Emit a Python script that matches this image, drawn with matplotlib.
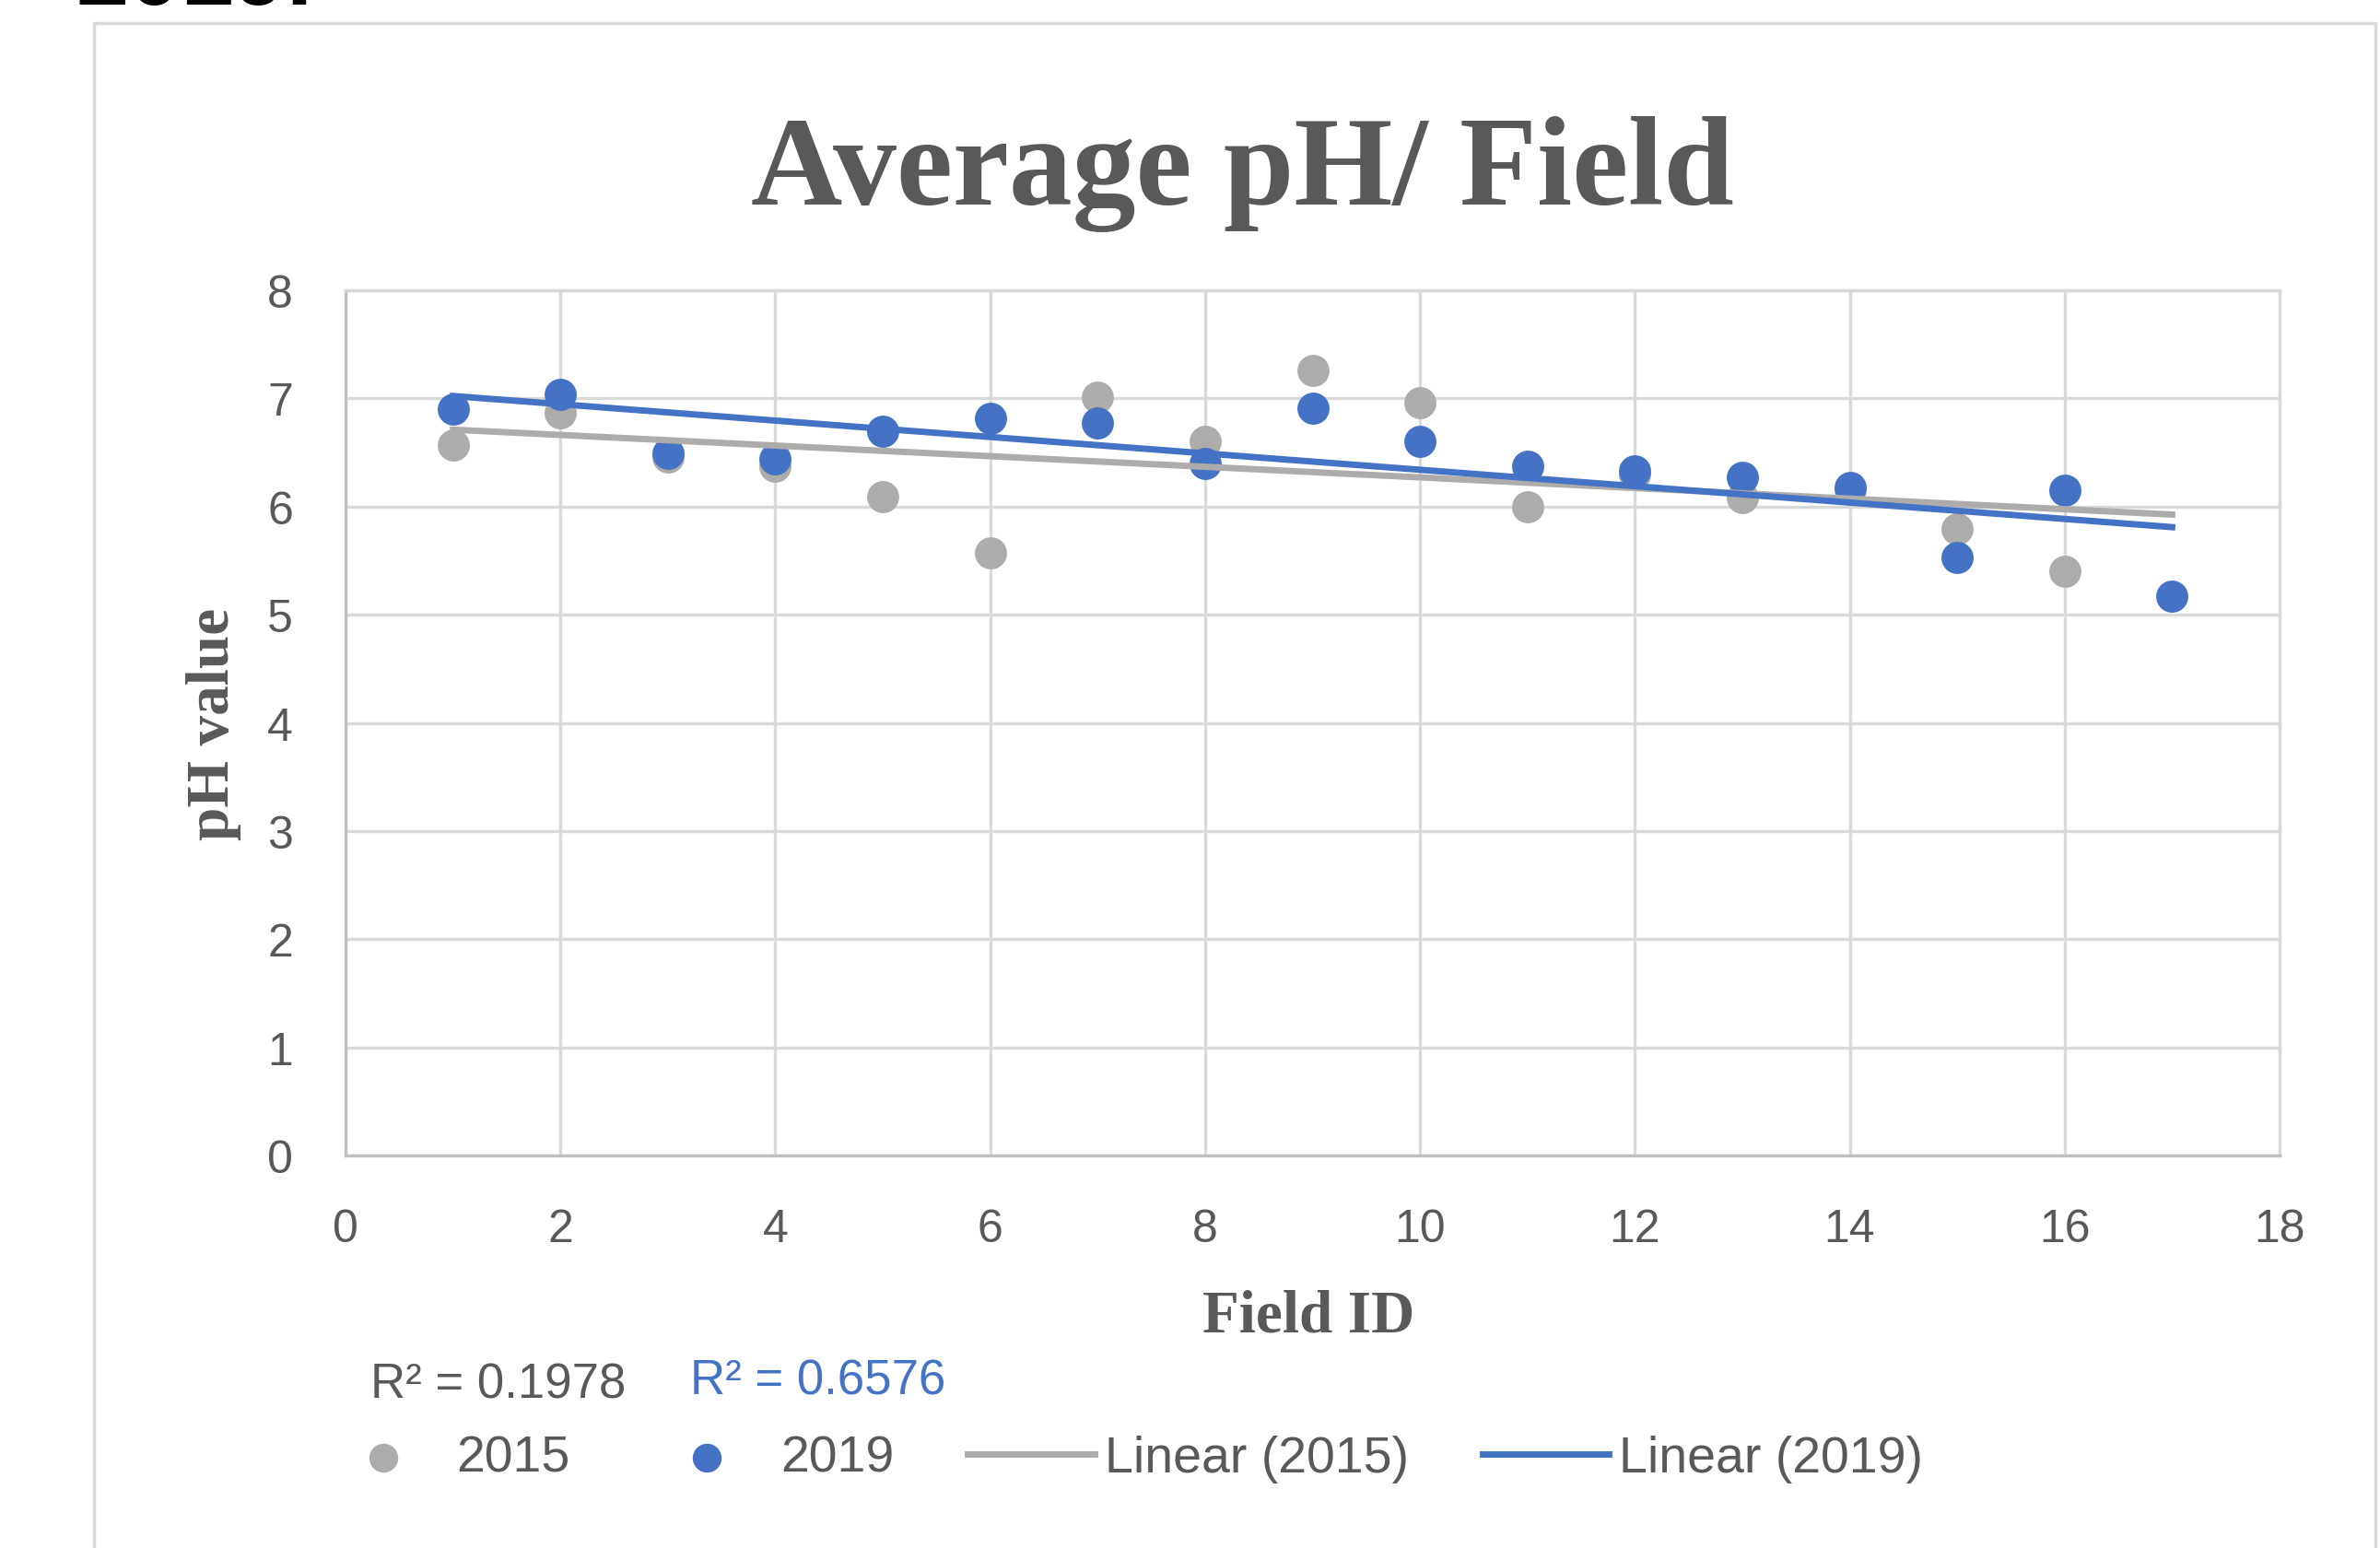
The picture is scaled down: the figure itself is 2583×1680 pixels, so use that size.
import numpy as np
import matplotlib
matplotlib.use("Agg")
import matplotlib.pyplot as plt
from matplotlib.patches import Rectangle

# =============================
# DATA
# =============================
field_2015 = [1, 2, 3, 4, 5, 6, 7, 8, 9, 10, 11, 12, 13, 14, 15, 16]
ph_2015 = [6.57, 6.87, 6.46, 6.37, 6.09, 5.57, 7.01, 6.60,
           7.26, 6.96, 6.00, 6.30, 6.08, 6.16, 5.79, 5.40]

field_2019 = [1, 2, 3, 4, 5, 6, 7, 8, 9, 10, 11, 12, 13, 14, 15, 16, 17]
ph_2019 = [6.90, 7.04, 6.49, 6.44, 6.70, 6.82, 6.77, 6.40,
           6.91, 6.60, 6.37, 6.33, 6.27, 6.18, 5.53, 6.15, 5.17]

r2_2015 = "R² = 0.1978"
r2_2019 = "R² = 0.6576"

x_ticks = [0, 2, 4, 6, 8, 10, 12, 14, 16, 18]
y_ticks = [0, 1, 2, 3, 4, 5, 6, 7, 8]

# =============================
# STYLE
# =============================
W, H = 2583, 1681
BLUE = "#4472C4"
GRAY = "#AEABAB"
TXT = "#595959"
GRID = "#D9D9D9"
SANS = "Liberation Sans"
SERIF = "Liberation Serif"


def fx(px):
    return px / W


def fy(py):
    return 1 - py / H


fig = plt.figure(figsize=(W / 100, H / 100), dpi=100)

# chart frame
fig.add_artist(Rectangle((fx(102), -0.05), fx(2578 - 102), fy(26) + 0.05,
                         transform=fig.transFigure, fill=False,
                         ec=GRID, lw=2.5))

# cut-off text from the page above the chart
fig.text(fx(82), fy(5), "2019.", fontsize=74, family=SANS,
         fontweight="bold", color="black", va="baseline", ha="left")

ax = fig.add_axes([fx(375), fy(1255), fx(2474 - 375), fy(316) - fy(1255)])

ax.set_xlim(0, 18)
ax.set_ylim(0, 8)
ax.set_xticks(x_ticks)
ax.set_yticks(y_ticks)
ax.grid(True, color=GRID, lw=2.4, zorder=0)
ax.set_axisbelow(True)

for s in ["top", "right"]:
    ax.spines[s].set_color(GRID)
    ax.spines[s].set_linewidth(2.4)
for s in ["left", "bottom"]:
    ax.spines[s].set_color("#BFBFBF")
    ax.spines[s].set_linewidth(2.4)

ax.tick_params(length=0, pad=41, labelsize=36, labelcolor=TXT)
for lab in ax.get_xticklabels() + ax.get_yticklabels():
    lab.set_family(SANS)

# scatter points
ax.scatter(field_2015, ph_2015, s=630, color=GRAY, lw=0, zorder=3,
           label="2015")
ax.scatter(field_2019, ph_2019, s=630, color=BLUE, lw=0, zorder=4,
           label="2019")

# linear trendlines
xs = np.array([min(field_2019), max(field_2019)])
k15, b15 = np.polyfit(field_2015, ph_2015, 1)
k19, b19 = np.polyfit(field_2019, ph_2019, 1)
ax.plot(xs, k15 * xs + b15, color=GRAY, lw=5, zorder=5,
        label="Linear (2015)")
ax.plot(xs, k19 * xs + b19, color=BLUE, lw=5, zorder=6,
        label="Linear (2019)")

# titles
fig.text(fx(1348), fy(222), "Average pH/ Field", fontsize=99,
         family=SERIF, fontweight="bold", color=TXT,
         ha="center", va="baseline")
fig.text(fx(232), fy(786), "pH value", fontsize=47, family=SERIF,
         fontweight="bold", color=TXT, rotation=90,
         ha="center", va="center")
fig.text(fx(1420), fy(1430), "Field ID", fontsize=47, family=SERIF,
         fontweight="bold", color=TXT, ha="center", va="center")

# R² labels
fig.text(fx(402), fy(1504), r2_2015, fontsize=38, family=SANS,
         color=TXT, ha="left", va="center")
fig.text(fx(749), fy(1500), r2_2019, fontsize=38, family=SANS,
         color=BLUE, ha="left", va="center")

# legend
handles, labels = ax.get_legend_handles_labels()
leg = fig.legend(handles, labels, ncol=4, loc="center left",
                 bbox_to_anchor=(fx(347), fy(1584)), frameon=False,
                 borderpad=0, borderaxespad=0, handlelength=2.47,
                 handletextpad=0.2, columnspacing=1.44, markerscale=0.9,
                 prop={"family": SANS, "size": 40})
for t in leg.get_texts():
    t.set_color(TXT)

fig.savefig("out.png", dpi=100)
